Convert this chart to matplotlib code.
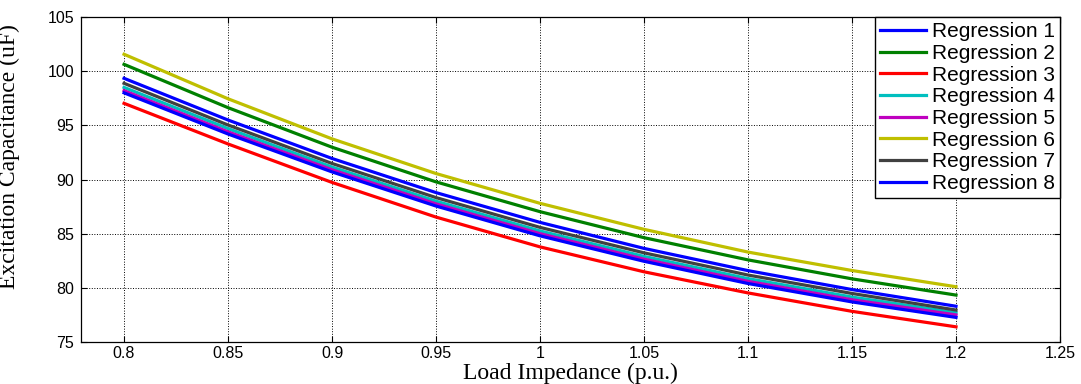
import matplotlib
matplotlib.use("Agg")
import matplotlib.pyplot as plt

# load impedance (p.u.)
x = [0.80, 0.85, 0.90, 0.95, 1.00, 1.05, 1.10, 1.15, 1.20]

# excitation capacitance (uF)
reg1 = [99.34, 95.49, 91.94, 88.79, 86.04, 83.64, 81.59, 79.84, 78.30]
reg2 = [100.63, 96.63, 92.98, 89.78, 87.03, 84.63, 82.58, 80.83, 79.33]
reg3 = [97.03, 93.28, 89.73, 86.53, 83.78, 81.48, 79.53, 77.83, 76.40]
reg4 = [98.50, 94.70, 91.15, 88.00, 85.25, 82.90, 80.85, 79.15, 77.70]
reg5 = [98.20, 94.40, 90.90, 87.75, 85.00, 82.65, 80.60, 78.90, 77.50]
reg6 = [101.56, 97.45, 93.75, 90.55, 87.80, 85.40, 83.30, 81.60, 80.10]
reg7 = [98.88, 95.03, 91.48, 88.33, 85.58, 83.23, 81.18, 79.48, 77.95]
reg8 = [98.00, 94.20, 90.70, 87.55, 84.80, 82.45, 80.40, 78.70, 77.27]

series = [reg1, reg2, reg3, reg4, reg5, reg6, reg7, reg8]
labels = ["Regression %d" % i for i in range(1, 9)]
colors = [(0, 0, 1), (0, 0.5, 0), (1, 0, 0), (0, 0.75, 0.75),
          (0.75, 0, 0.75), (0.75, 0.75, 0), (0.25, 0.25, 0.25), (0, 0, 1)]

xticks = [0.8, 0.85, 0.9, 0.95, 1, 1.05, 1.1, 1.15, 1.2, 1.25]
xticklabels = ["0.8", "0.85", "0.9", "0.95", "1", "1.05", "1.1", "1.15", "1.2", "1.25"]
yticks = [75, 80, 85, 90, 95, 100, 105]

fig = plt.figure(figsize=(10.81, 3.84), dpi=100)
ax = fig.add_axes([81 / 1081, 1 - 342 / 384, (1060 - 81) / 1081, (342 - 17) / 384])

for y, lab, c in zip(series, labels, colors):
    ax.plot(x, y, color=c, linewidth=2.3, label=lab)

ax.set_xlim(0.7793, 1.25)
ax.set_ylim(75, 105)
ax.set_xticks(xticks)
ax.set_xticklabels(xticklabels)
ax.set_yticks(yticks)
ax.tick_params(direction="in", top=True, right=True, length=4, width=0.8,
               labelsize=11.5)
ax.tick_params(axis="x", pad=3)
ax.tick_params(axis="y", pad=5)
for lbl in ax.get_xticklabels() + ax.get_yticklabels():
    lbl.set_family("Liberation Sans")
ax.grid(True, color="black", linestyle=":", linewidth=0.7)
for s in ax.spines.values():
    s.set_linewidth(0.9)

ax.set_xlabel("Load Impedance (p.u.)", fontsize=17, family="Liberation Serif")
ax.xaxis.set_label_coords(0.5, -0.064)
ax.set_ylabel("Excitation Capacitance (uF)", fontsize=17, family="Liberation Serif")
ax.yaxis.set_label_coords(-0.062, 0.572)

leg = ax.legend(loc="upper right", borderaxespad=0, fancybox=False, framealpha=1,
                edgecolor="black", prop={"family": "Liberation Sans", "size": 15},
                handlelength=2.2, handletextpad=0.3, labelspacing=0.13,
                borderpad=0.25)
leg.get_frame().set_linewidth(1.0)

fig.savefig("out.png", dpi=100)
